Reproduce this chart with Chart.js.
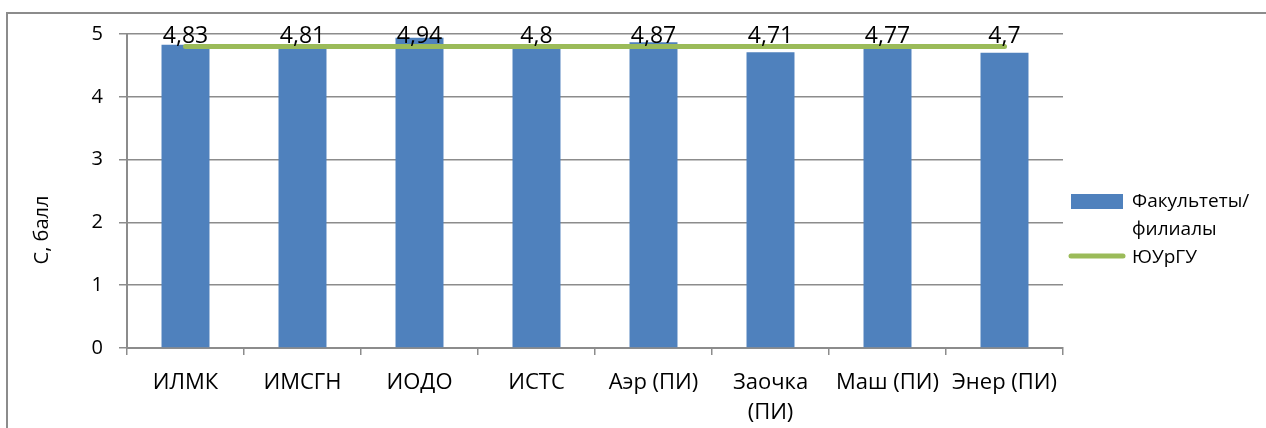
<!DOCTYPE html>
<html>
<head>
<meta charset="utf-8">
<script src="https://cdn.jsdelivr.net/npm/chart.js"></script>
<style>
  html, body { margin: 0; padding: 0; background: #fff; overflow: hidden; }
  #wrap { position: relative; width: 1266px; height: 428px; }
  /* outer chart frame, cut off at right and bottom like the reference */
  #frame {
    position: absolute; left: 6px; top: 12px; width: 1400px; height: 600px;
    border: 2px solid #8c8c8c; box-sizing: border-box;
  }
  #score-chart { position: absolute; left: 0; top: 0; }
</style>
</head>
<body>
<div id="wrap">
  <div id="frame"></div>
  <canvas id="score-chart" width="1266" height="428"></canvas>
</div>
<script>
/* ==========================
   Data
========================== */
const categories = [
  'ИЛМК', 'ИМСГН', 'ИОДО', 'ИСТС', 'Аэр (ПИ)', ['Заочка', '(ПИ)'], 'Маш (ПИ)', 'Энер (ПИ)'
];
const facultyScores = [4.83, 4.81, 4.94, 4.8, 4.87, 4.71, 4.77, 4.7];
const universityScores = [4.8, 4.8, 4.8, 4.8, 4.8, 4.8, 4.8, 4.8];
const yTicks = [0, 1, 2, 3, 4, 5];
const yTitle = 'С, балл';
const barLabel = ['Факультеты/', 'филиалы'];
const lineLabel = 'ЮУрГУ';

const FONT = "'Open Sans', sans-serif";
const BLUE = '#4F81BD';
const GREEN = '#9BBB59';
const GRID = '#8c8c8c';

/* ==========================
   Plugins
========================== */
// value labels above the bars, all on the same row near the top
const valueLabels = {
  id: 'valueLabels',
  afterDatasetsDraw(chart) {
    const ctx = chart.ctx;
    const meta = chart.getDatasetMeta(1);
    const y = chart.scales.y.getPixelForValue(yTicks[yTicks.length - 1]) + 9;
    ctx.save();
    ctx.font = '23px ' + FONT;
    ctx.fillStyle = '#000';
    ctx.textAlign = 'center';
    ctx.textBaseline = 'alphabetic';
    meta.data.forEach((bar, i) => {
      ctx.fillText(String(facultyScores[i]).replace('.', ','), bar.x, y);
    });
    ctx.restore();
  }
};

// y axis title, placed like the original (centred on the whole frame)
const axisTitle = {
  id: 'axisTitle',
  afterDraw(chart) {
    const ctx = chart.ctx;
    ctx.save();
    ctx.translate(42, 230);
    ctx.rotate(-Math.PI / 2);
    ctx.font = '20px ' + FONT;
    ctx.fillStyle = '#000';
    ctx.textAlign = 'center';
    ctx.textBaseline = 'middle';
    ctx.fillText(yTitle, 0, 0);
    ctx.restore();
  }
};

// legend on the right with a two-line label
const sideLegend = {
  id: 'sideLegend',
  afterDraw(chart) {
    const ctx = chart.ctx;
    const x0 = chart.chartArea.right + 8;
    ctx.save();
    ctx.font = '19px ' + FONT;
    ctx.fillStyle = '#000';
    ctx.textAlign = 'left';
    ctx.textBaseline = 'middle';
    // bar entry
    ctx.fillStyle = chart.data.datasets[1].backgroundColor;
    ctx.fillRect(x0, 194, 52, 15);
    ctx.fillStyle = '#000';
    barLabel.forEach((t, i) => ctx.fillText(t, x0 + 61, 202 + i * 28));
    // line entry
    ctx.strokeStyle = chart.data.datasets[0].borderColor;
    ctx.lineWidth = 5;
    ctx.lineCap = 'round';
    ctx.beginPath();
    ctx.moveTo(x0, 256);
    ctx.lineTo(x0 + 52, 256);
    ctx.stroke();
    ctx.fillText(lineLabel, x0 + 61, 258);
    ctx.restore();
  }
};

/* ==========================
   Chart Initialization
========================== */
const ctx = document.getElementById('score-chart').getContext('2d');
const scoreChart = new Chart(ctx, {
  type: 'bar',
  data: {
    labels: categories,
    datasets: [
      {
        type: 'line',
        label: lineLabel,
        data: universityScores,
        borderColor: GREEN,
        borderWidth: 5,
        borderCapStyle: 'round',
        pointRadius: 0,
        tension: 0,
        order: 0,
      },
      {
        type: 'bar',
        label: barLabel.join(''),
        data: facultyScores,
        backgroundColor: BLUE,
        barPercentage: 0.41,
        categoryPercentage: 1.0,
        order: 1,
      },
    ],
  },
  options: {
    responsive: false,
    animation: false,
    layout: { padding: { left: 0, right: 203, top: 34, bottom: 0 } },
    plugins: {
      legend: { display: false },
      tooltip: { enabled: false },
    },
    scales: {
      x: {
        afterFit: (scale) => { scale.height = 80; },
        grid: {
          offset: true,
          drawOnChartArea: false,
          drawTicks: true,
          tickLength: 7,
          color: GRID,
          lineWidth: 1.5,
        },
        border: { color: GRID, width: 2 },
        ticks: {
          color: '#000',
          padding: 12,
          maxRotation: 0,
          autoSkip: false,
          font: { family: FONT, size: 22, lineHeight: 1.4 },
        },
      },
      y: {
        min: 0,
        max: 5,
        afterFit: (scale) => { scale.width = 127; },
        grid: {
          color: GRID,
          lineWidth: 1.5,
          tickLength: 8,
        },
        border: { color: GRID, width: 2 },
        ticks: {
          stepSize: 1,
          color: '#000',
          padding: 16,
          font: { family: FONT, size: 20 },
        },
      },
    },
  },
  plugins: [valueLabels, axisTitle, sideLegend],
});
</script>
</body>
</html>
